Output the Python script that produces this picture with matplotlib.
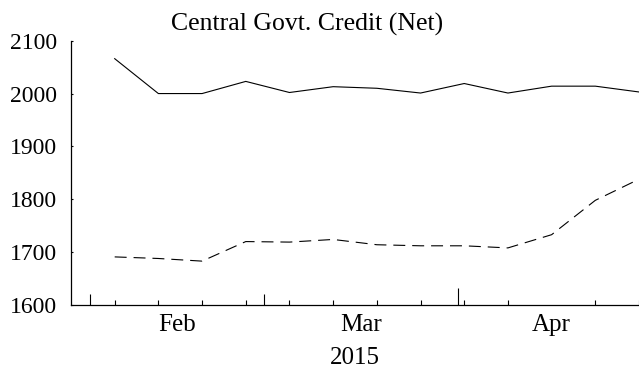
import matplotlib
matplotlib.use('Agg')
import matplotlib.pyplot as plt
import pandas as pd

plt.rcParams['font.family'] = ['Liberation Serif', 'DejaVu Serif']
plt.rcParams['lines.scale_dashes'] = False

# weekly observations
dates = ['2015-02-05', '2015-02-12', '2015-02-19', '2015-02-26', '2015-03-05',
         '2015-03-12', '2015-03-19', '2015-03-26', '2015-04-02', '2015-04-09',
         '2015-04-16', '2015-04-23', '2015-04-30']
series_solid = [2066, 2000, 2000, 2023, 2002, 2013, 2010, 2001, 2019, 2001, 2014, 2014, 2003]
series_dashed = [1691, 1688, 1683, 1720, 1719, 1724, 1714, 1712, 1712, 1708, 1733, 1798, 1838]

month_starts = ['2015-02-01', '2015-03-01']
quarter_starts = ['2015-04-01']
month_mids = ['2015-02-15', '2015-03-16T12:00', '2015-04-16']
month_labels = ['Feb', 'Mar', 'Apr']
yticks = [1600, 1700, 1800, 1900, 2000, 2100]

x = pd.to_datetime(dates)

fig = plt.figure(figsize=(6.39, 3.68), dpi=100)
ax = fig.add_axes([71 / 639, 63 / 368, 1 - 71 / 639, (305 - 40.7) / 368])

ax.plot(x, series_solid, color='black', linewidth=0.8, clip_on=False)
ax.plot(x, series_dashed, color='black', linewidth=0.8, linestyle=(0, (8.6, 5)), clip_on=False)

ax.set_xlim(pd.Timestamp('2015-01-29'), pd.Timestamp('2015-04-30'))
ax.set_ylim(1600, 2100)
ax.set_yticks(yticks)

for s in ['top', 'right']:
    ax.spines[s].set_visible(False)
for s in ['left', 'bottom']:
    ax.spines[s].set_linewidth(0.9)

ax.tick_params(axis='y', direction='in', length=1.7, width=0.8, pad=10, labelsize=17)

# month labels centred in each month, data dates as small ticks
ax.set_xticks(pd.to_datetime(month_mids, format='ISO8601'))
ax.set_xticklabels(month_labels)
ax.set_xticks(x, minor=True)
ax.tick_params(axis='x', which='major', length=0, pad=6.6, labelsize=18)
ax.tick_params(axis='x', which='minor', direction='in', length=3.5, width=0.8)

# month boundary ticks and a taller quarter tick
sec = ax.secondary_xaxis('bottom')
sec.spines['bottom'].set_visible(False)
sec.set_xticks(pd.to_datetime(month_starts))
sec.set_xticklabels(['' for _ in month_starts])
sec.set_xticks(pd.to_datetime(quarter_starts), minor=True)
sec.tick_params(axis='x', which='major', direction='in', length=8, width=0.8)
sec.tick_params(axis='x', which='minor', direction='in', length=12.5, width=0.8)

ax.set_xlabel('2015', fontsize=18, labelpad=7.5)
fig.text(306.7 / 639, 1 - 30.4 / 368, 'Central Govt. Credit (Net)', ha='center', va='baseline', fontsize=18.5)

fig.savefig('out.png', dpi=100)
